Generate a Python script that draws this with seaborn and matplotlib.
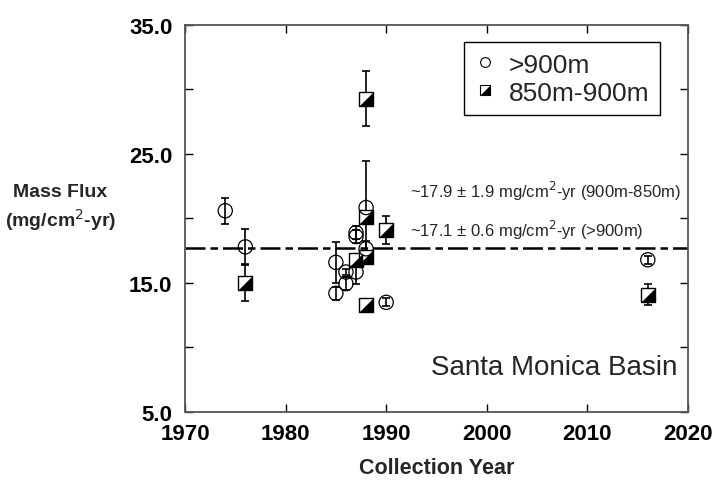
import pandas as pd
import seaborn as sns
import matplotlib.pyplot as plt
from matplotlib.lines import Line2D
from matplotlib.legend_handler import HandlerTuple

# >900m (circulos abiertos)
deep_year = [1974, 1976, 1985, 1985, 1986, 1986, 1987, 1987, 1987, 1988, 1988, 1990, 2016]
deep_flux = [20.6, 17.8, 16.6, 14.2, 15.85, 14.95, 15.85, 18.9, 18.6, 17.65, 20.85, 13.5, 16.8]
deep_err = [1.0, 1.35, 1.6, 0.5, 0.25, 0.5, 0.9, 0.5, 0.5, 0.6, 3.6, 0.3, 0.3]

# 850m-900m (cuadrados medio rellenos)
mid_year = [1976, 1987, 1988, 1988, 1988, 1988, 1990, 2016]
mid_flux = [15.0, 16.75, 17.0, 20.1, 29.3, 13.3, 19.1, 14.1]
mid_err = [1.4, 0.0, 0.5, 0.0, 2.1, 0.0, 1.1, 0.8]

mean_flux = 17.7
x_ticks = [1970, 1980, 1990, 2000, 2010, 2020]
y_ticks = [5, 10, 15, 20, 25, 30, 35]
y_labels = ["5.0", "", "15.0", "", "25.0", "", "35.0"]

deep = pd.DataFrame({"year": deep_year, "flux": deep_flux, "err": deep_err})
mid = pd.DataFrame({"year": mid_year, "flux": mid_flux, "err": mid_err})

sns.set_style("ticks")
plt.rcParams["font.family"] = ["Liberation Sans", "DejaVu Sans"]

fig = plt.figure(figsize=(7.17, 4.81), dpi=100)
ax = fig.add_axes([0.258, 0.1414, 0.7016, 0.8046])

# linea promedio
ax.axhline(mean_flux, color="black", lw=1.8, dashes=(8, 2, 3, 2), zorder=1)

# barras de error
ax.errorbar(mid["year"], mid["flux"], yerr=mid["err"], fmt="none", ecolor="black",
            elinewidth=1.2, capsize=3, capthick=1.2, zorder=2)
ax.errorbar(deep["year"], deep["flux"], yerr=deep["err"], fmt="none", ecolor="black",
            elinewidth=1.2, capsize=3, capthick=1.2, zorder=2)

# cuadrados: fondo blanco + triangulo negro abajo a la derecha
half = [(0.5, -0.5), (0.5, 0.5), (-0.5, -0.5)]
sns.scatterplot(data=mid, x="year", y="flux", marker="s", s=95, color="white",
                edgecolor="black", linewidth=1.0, ax=ax, zorder=3)
sns.scatterplot(data=mid, x="year", y="flux", marker=half, s=95, color="black",
                linewidth=0, ax=ax, zorder=4)

# circulos
sns.scatterplot(data=deep, x="year", y="flux", marker="o", s=105, facecolor="none",
                edgecolor="black", linewidth=0.9, ax=ax, zorder=5)

ax.set_xlim(1970, 2020)
ax.set_ylim(5, 35)
ax.set_xticks(x_ticks)
ax.set_xticklabels([str(t) for t in x_ticks], fontweight="bold", fontsize=16)
ax.set_yticks(y_ticks)
ax.set_yticklabels(y_labels, fontweight="bold", fontsize=16)
ax.tick_params(direction="in", length=6, width=1, top=True, right=True, colors="black")
ax.tick_params(axis="x", pad=8)
ax.tick_params(axis="y", pad=9)
for s in ax.spines.values():
    s.set_visible(True)
    s.set_color("#555555")
    s.set_linewidth(1.3)

ax.set_xlabel("Collection Year", fontweight="bold", fontsize=15.5, labelpad=9)
ax.set_ylabel("Mass Flux\n(mg/cm$^2$-yr)", fontweight="bold", fontsize=14,
              rotation=0, ha="center", va="center", linespacing=1.3)
ax.yaxis.set_label_coords(-0.248, 0.528)

ax.text(1992.4, 22.15, "~17.9 ± 1.9 mg/cm$^2$-yr (900m-850m)", fontsize=12, va="center")
ax.text(1992.4, 19.15, "~17.1 ± 0.6 mg/cm$^2$-yr (>900m)", fontsize=12, va="center")
ax.text(1994.5, 8.5, "Santa Monica Basin", fontsize=20, va="center")

h_deep = Line2D([], [], marker="o", ls="none", mfc="white", mec="black", ms=7, mew=0.8)
h_sq = Line2D([], [], marker="s", ls="none", mfc="white", mec="black", ms=7, mew=0.8)
h_tri = Line2D([], [], marker=half, ls="none", mfc="black", mec="none", ms=7)
leg = ax.legend([h_deep, (h_sq, h_tri)], [">900m", "850m-900m"],
                handler_map={tuple: HandlerTuple(ndivide=1)},
                loc="upper right", bbox_to_anchor=(0.944, 0.956), fontsize=19,
                frameon=True, fancybox=False, edgecolor="black", framealpha=1,
                handletextpad=0.5, borderpad=0.4, labelspacing=0.15, handlelength=0.8,
                borderaxespad=0)
leg.get_frame().set_linewidth(1.0)

fig.savefig("out.png", dpi=100)
